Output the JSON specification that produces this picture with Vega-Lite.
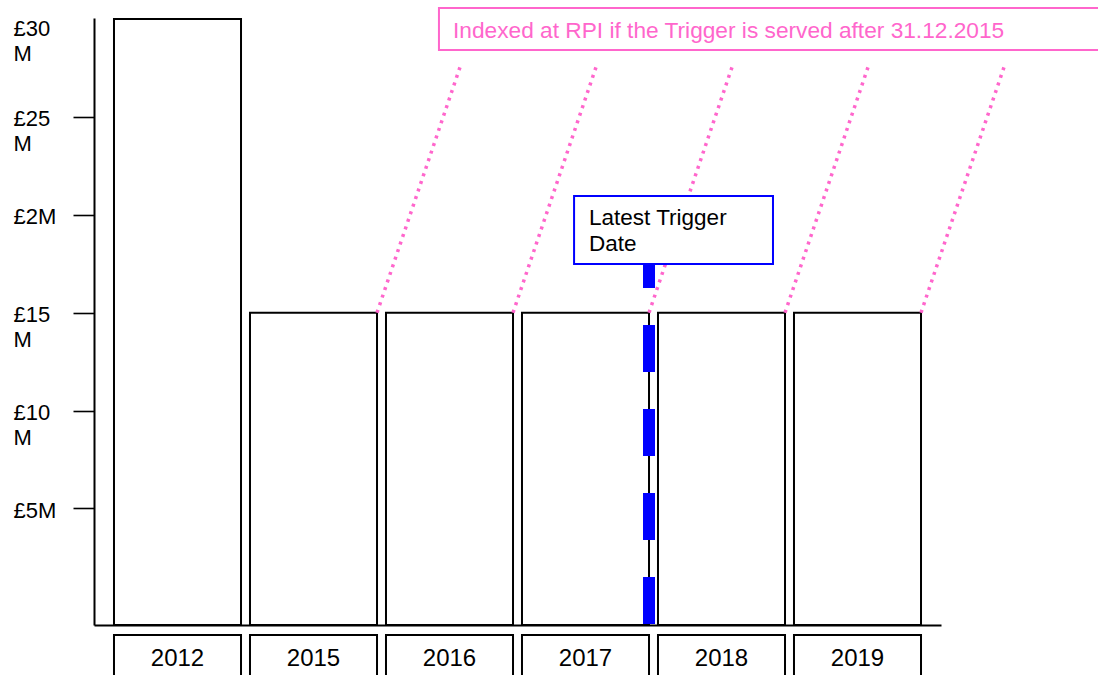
{
  "$schema": "https://vega.github.io/schema/vega-lite/v6.json",
  "autosize": {"type": "none"},
  "padding": {"left": 94, "top": 18, "right": 157, "bottom": 50},
  "width": 847,
  "height": 607,
  "background": "white",
  "config": {"view": {"stroke": null}, "font": "Liberation Sans"},
  "datasets": {
    "bars": [
      {"year": "2012", "value": 30},
      {"year": "2015", "value": 15},
      {"year": "2016", "value": 15},
      {"year": "2017", "value": 15},
      {"year": "2018", "value": 15},
      {"year": "2019", "value": 15}
    ],
    "trigger": [{"year": "2017", "label": "Latest Trigger\nDate"}],
    "rpi": [{"year": "2016", "end": "2019", "label": "Indexed at RPI if the Trigger is served after 31.12.2015"}]
  },
  "data": {"name": "bars"},
  "layer": [
    {
      "mark": {"type": "bar", "fill": "white", "stroke": "black", "strokeWidth": 2},
      "encoding": {
        "x": {
          "field": "year", "type": "nominal",
          "scale": {"paddingInner": 0.066, "paddingOuter": 0.147},
          "axis": {
            "title": null, "domainColor": "black", "domainWidth": 2, "zindex": 1,
            "ticks": false, "tickSize": 0, "labelPadding": 33,
            "labelBaseline": "middle", "labelFontSize": 24, "labelColor": "black",
            "labelAngle": 0, "labelFont": "Liberation Sans"
          }
        },
        "y": {
          "field": "value", "type": "quantitative",
          "scale": {"domain": [-0.95, 30.05], "nice": false, "zero": false},
          "axis": {
            "title": null, "grid": false,
            "values": [5, 10, 15, 20, 25, 30],
            "domainColor": "black", "domainWidth": 2,
            "tickColor": "black", "tickWidth": 1.6, "tickSize": 21,
            "tickOpacity": {"condition": {"test": "datum.value == 30", "value": 0}, "value": 1},
            "labelAlign": "left", "labelBaseline": "top", "labelPadding": 60,
            "labelFontSize": 22, "labelColor": "black", "labelFont": "Liberation Sans",
            "labelLineHeight": 25, "labelOverlap": false, "labelBound": false,
            "labelOffset": {"condition": {"test": "datum.value == 30", "value": 0}, "value": -8},
            "labelExpr": "datum.value == 20 ? '£2M' : datum.value == 5 ? '£5M' : ['£' + datum.value, 'M']"
          }
        },
        "y2": {"datum": -0.95}
      }
    },
    {
      "mark": {"type": "bar", "fill": "white", "stroke": "black", "strokeWidth": 2},
      "encoding": {
        "x": {"field": "year", "type": "nominal"},
        "y": {"datum": -1.46},
        "y2": {"datum": -5}
      }
    },
    {
      "transform": [{"filter": "datum.value == 15"}],
      "mark": {"type": "rule", "stroke": "#ff66cc", "strokeWidth": 3.5, "strokeDash": [3, 5]},
      "encoding": {
        "x": {"field": "year", "type": "nominal", "bandPosition": 1},
        "x2": {"field": "year", "bandPosition": 1.654},
        "y": {"field": "value", "type": "quantitative"},
        "y2": {"datum": 27.55}
      }
    },
    {
      "data": {"name": "trigger"},
      "mark": {"type": "rule", "stroke": "#0000ff", "strokeWidth": 12, "strokeDash": [47, 37]},
      "encoding": {
        "x": {"field": "year", "type": "nominal", "bandPosition": 1},
        "y": {"datum": 18.66},
        "y2": {"datum": -0.95}
      }
    },
    {
      "data": {"name": "trigger"},
      "mark": {"type": "rect", "fill": "white", "stroke": "#0000ff", "strokeWidth": 2},
      "encoding": {
        "x": {"field": "year", "type": "nominal", "bandPosition": 0.41},
        "x2": {"field": "year", "bandPosition": 1.976},
        "y": {"datum": 20.96},
        "y2": {"datum": 17.49}
      }
    },
    {
      "data": {"name": "trigger"},
      "mark": {"type": "text", "align": "left", "baseline": "alphabetic", "fontSize": 22.5, "lineHeight": 26, "lineBreak": "\n", "color": "black", "font": "Liberation Sans"},
      "encoding": {
        "x": {"field": "year", "type": "nominal", "bandPosition": 0.528},
        "y": {"datum": 19.48},
        "text": {"field": "label"}
      }
    },
    {
      "data": {"name": "rpi"},
      "mark": {"type": "rect", "fill": "white", "stroke": "#ff66cc", "strokeWidth": 2},
      "encoding": {
        "x": {"field": "year", "type": "nominal", "bandPosition": 0.417},
        "x2": {"field": "end", "bandPosition": 2.49},
        "y": {"datum": 30.56},
        "y2": {"datum": 28.42}
      }
    },
    {
      "data": {"name": "rpi"},
      "mark": {"type": "text", "align": "left", "baseline": "alphabetic", "fontSize": 22.7, "color": "#ff66cc", "font": "Liberation Sans"},
      "encoding": {
        "x": {"field": "year", "type": "nominal", "bandPosition": 0.528},
        "y": {"datum": 29.05},
        "text": {"field": "label"}
      }
    }
  ]
}
